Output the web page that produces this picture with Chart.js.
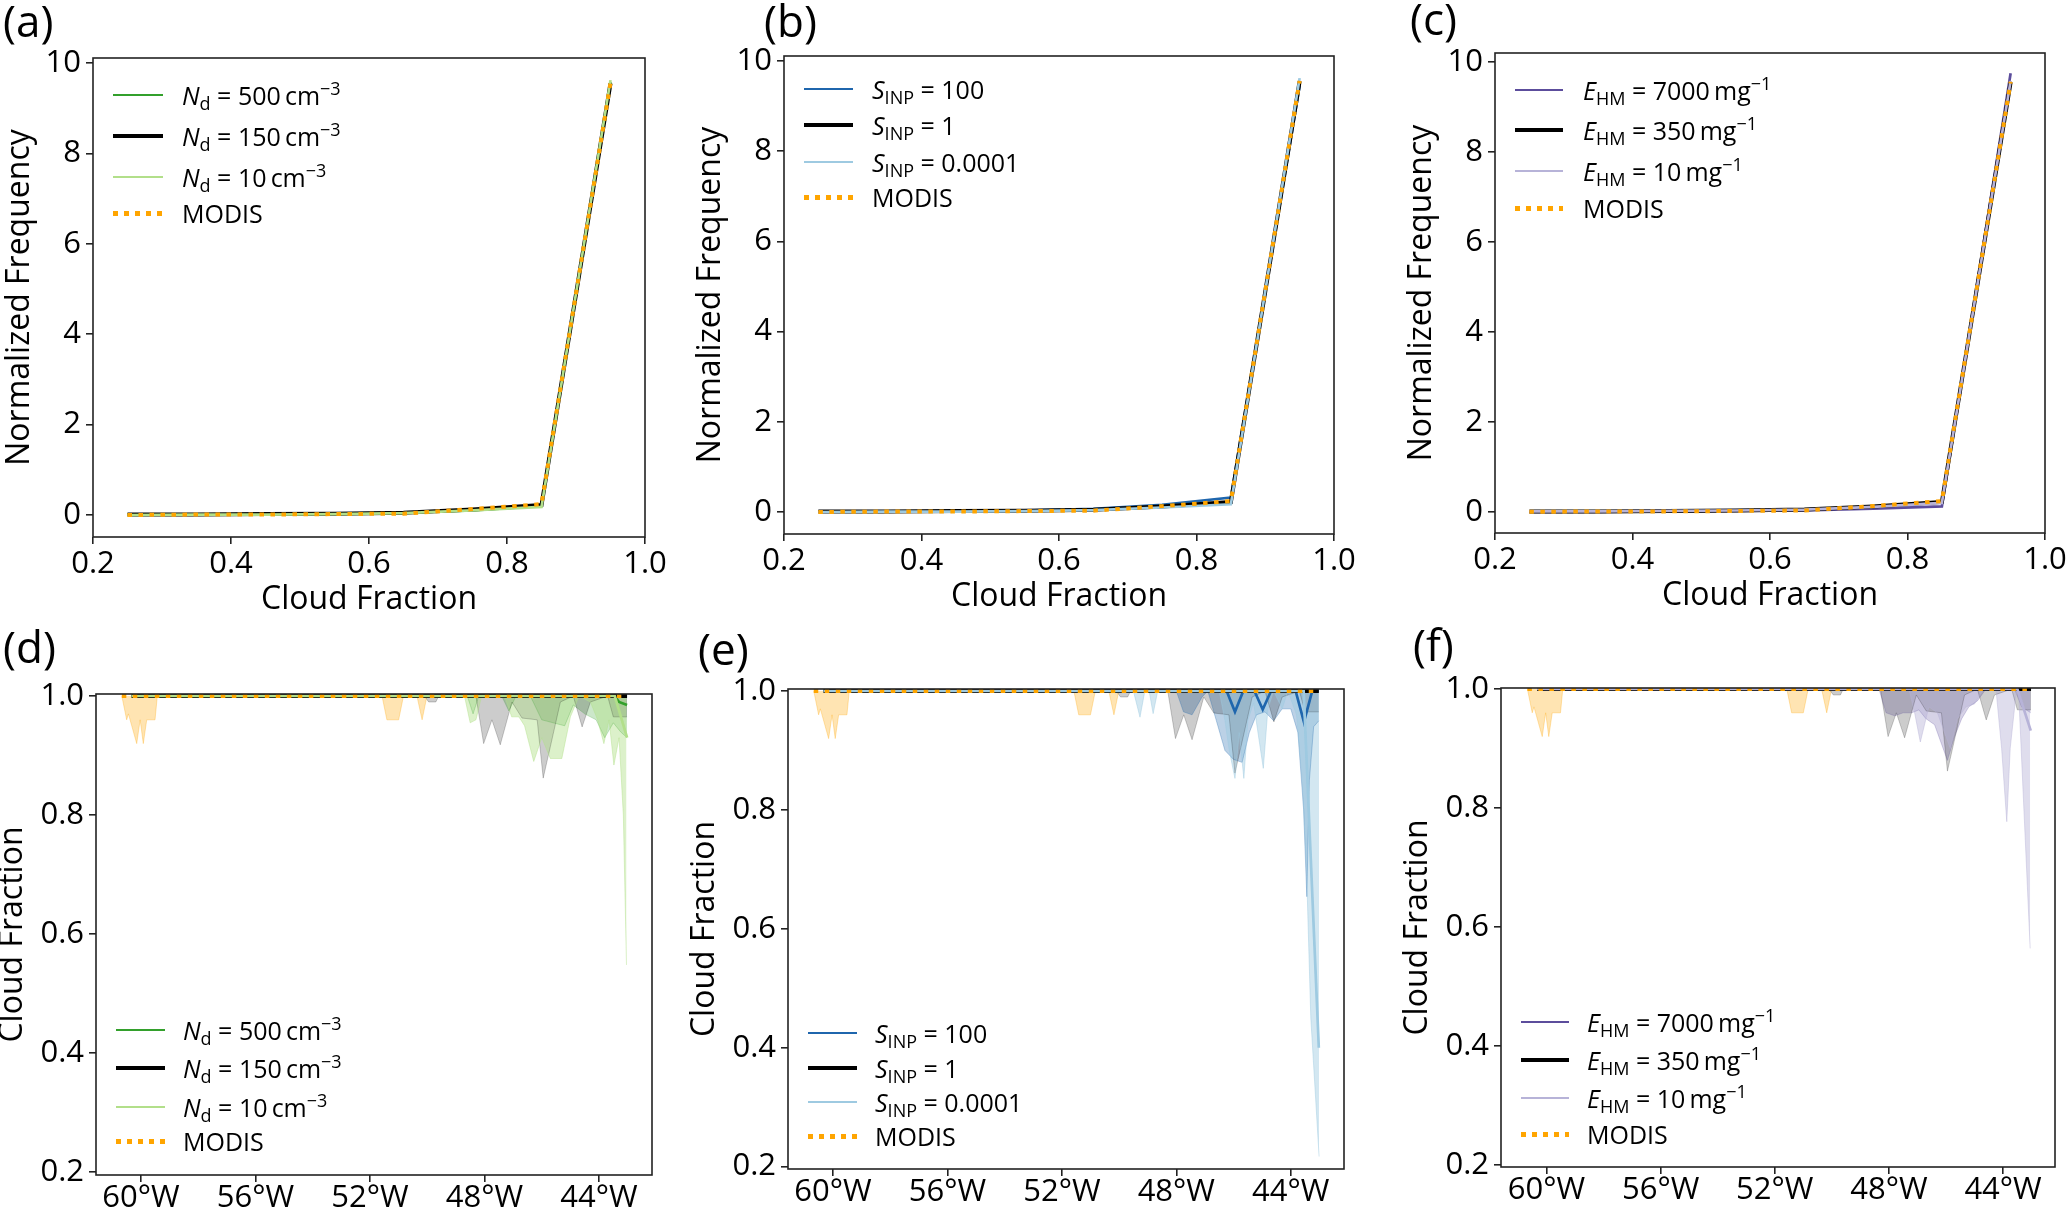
<!DOCTYPE html>
<html lang="en">
<head>
<meta charset="UTF-8">
<title>Cloud fraction: sensitivity runs vs MODIS</title>
<script src="https://cdn.jsdelivr.net/npm/chart.js"></script>
<style>
  html, body { margin: 0; padding: 0; background: #fff; overflow: hidden; }
  body { width: 2067px; height: 1210px; position: relative; font-family: 'Open Sans', sans-serif; color: #000; }
  canvas { position: absolute; }
  .tag { position: absolute; font-size: 44px; line-height: 1; }
  .leg-row { position: absolute; height: 40px; display: flex; align-items: center; font-size: 25px; line-height: 1; white-space: nowrap; }
  .leg-line { flex: none; }
  .leg-dots { flex: none; height: 5px; background: repeating-linear-gradient(90deg, #ffa500 0 5px, transparent 5px 11px); }
  sub, sup { font-size: 0.72em; line-height: 0; position: relative; vertical-align: baseline; }
  sub { top: 0.28em; }
  sup { top: -0.55em; }
</style>
</head>
<body>
<script>
// ---- top row: normalized frequency of cloud fraction ----
const cfBins = [0.25, 0.35, 0.45, 0.55, 0.65, 0.75, 0.85, 0.95];
const freqModis = [0.0, 0.01, 0.01, 0.02, 0.03, 0.13, 0.24, 9.56];
const freqCtrl = [0.01, 0.01, 0.02, 0.03, 0.05, 0.12, 0.22, 9.55];
const freqNd500 = [0.01, 0.01, 0.02, 0.03, 0.05, 0.1, 0.2, 9.58];
const freqNd10 = [0.0, 0.01, 0.01, 0.02, 0.04, 0.1, 0.18, 9.62];
const freqInp100 = [0.01, 0.01, 0.02, 0.03, 0.07, 0.16, 0.32, 9.45];
const freqInp0001 = [0.0, 0.01, 0.01, 0.02, 0.04, 0.1, 0.17, 9.62];
const freqHm7000 = [0.0, 0.0, 0.01, 0.02, 0.03, 0.07, 0.12, 9.75];
const freqHm10 = [0.01, 0.01, 0.02, 0.03, 0.05, 0.11, 0.2, 9.58];

const cfTicks = [0.2, 0.4, 0.6, 0.8, 1.0];
const freqTicks = [0, 2, 4, 6, 8, 10];

// ---- bottom row: cloud fraction along longitude (degrees east, negative = W) ----
const lonTicks = [-60, -56, -52, -48, -44];
const cfAxisTicks = [0.2, 0.4, 0.6, 0.8, 1.0];

// mean lines
const modisLineLon = [-60.67, -43.02];
const modisLineCf = [1.0, 1.0];
const ctrlLineLon = [-60.33, -43.02];
const ctrlLineCf = [1.0, 1.0];
const nd500LineLon = [-60.33, -43.45, -43.3, -43.02];
const nd500LineCf = [1.0, 1.0, 0.99, 0.985];
const nd10LineLon = [-60.33, -43.45, -43.02];
const nd10LineCf = [1.0, 1.0, 0.93];
const inp100LineLon = [-60.33, -46.24, -45.95, -45.66, -45.27, -44.98, -44.69, -43.83, -43.54, -43.25, -43.02];
const inp100LineCf = [1.0, 1.0, 0.965, 1.0, 1.0, 0.969, 1.0, 1.0, 0.948, 1.0, 1.0];
const inp0001LineLon = [-60.33, -43.55, -43.02];
const inp0001LineCf = [1.0, 1.0, 0.4];
const hm7000LineLon = [-60.33, -43.02];
const hm7000LineCf = [1.0, 1.0];
const hm10LineLon = [-60.33, -43.5, -43.03];
const hm10LineCf = [1.0, 1.0, 0.93];

// lower edge of the shaded spread (upper edge is 1.0)
const modisMinLon = [-60.67, -60.5, -60.44, -60.15, -60.03, -59.92, -59.8, -59.51, -59.43, -51.58, -51.41, -51.0, -50.83, -50.36, -50.18, -50.01];
const modisMinCf = [1.0, 0.96, 0.97, 0.92, 0.96, 0.92, 0.96, 0.96, 1.0, 1.0, 0.96, 0.96, 1.0, 1.0, 0.96, 1.0];
const ctrlMinLon = [-50.1, -49.95, -49.7, -49.6, -48.3, -48.03, -47.74, -47.45, -47.04, -46.69, -46.16, -45.95, -45.7, -45.35, -44.9, -44.59, -44.3, -43.7, -43.5, -43.02];
const ctrlMinCf = [1.0, 0.99, 0.99, 1.0, 1.0, 0.92, 0.96, 0.918, 0.99, 0.963, 0.96, 0.862, 0.915, 0.99, 1.0, 0.948, 0.99, 1.0, 0.965, 0.965];
const nd500MinLon = [-48.6, -48.4, -48.2, -47.4, -47.15, -46.9, -46.4, -46.0, -45.6, -45.2, -44.9, -44.5, -44.1, -43.8, -43.5, -43.25, -43.02];
const nd500MinCf = [1.0, 0.97, 1.0, 1.0, 0.975, 1.0, 1.0, 0.96, 0.955, 0.95, 0.985, 0.97, 0.96, 0.93, 0.955, 0.94, 0.93];
const nd10MinLon = [-48.7, -48.5, -48.3, -48.1, -47.3, -47.05, -46.8, -46.6, -46.28, -46.0, -45.7, -45.3, -45.0, -44.7, -44.3, -44.05, -43.83, -43.65, -43.48, -43.3, -43.15, -43.04];
const nd10MinCf = [1.0, 0.955, 0.96, 1.0, 1.0, 0.965, 0.965, 0.95, 0.89, 0.93, 0.895, 0.895, 0.965, 1.0, 0.99, 0.96, 0.92, 0.96, 0.884, 0.93, 0.8, 0.548];
const inp100MinLon = [-48.0, -47.75, -47.45, -47.1, -46.9, -46.6, -46.3, -46.0, -45.7, -45.45, -45.2, -44.9, -44.6, -44.3, -44.0, -43.75, -43.55, -43.44, -43.35, -43.2, -43.02];
const inp100MinCf = [1.0, 0.965, 0.96, 0.99, 1.0, 0.95, 0.9, 0.885, 0.88, 0.93, 0.96, 0.965, 0.95, 0.97, 0.97, 0.93, 0.8, 0.654, 0.85, 0.94, 0.95];
const inp0001MinLon = [-49.5, -49.27, -49.1, -48.95, -48.81, -48.65, -46.5, -46.3, -46.15, -45.95, -45.8, -45.64, -45.5, -45.3, -44.96, -44.8, -44.6, -44.3, -44.1, -43.8, -43.6, -43.45, -43.3, -43.01];
const inp0001MinCf = [1.0, 0.956, 1.0, 1.0, 0.962, 1.0, 1.0, 0.95, 0.9, 0.853, 0.93, 0.853, 0.95, 0.98, 0.87, 0.97, 1.0, 0.97, 1.0, 0.96, 0.85, 0.7, 0.45, 0.217];
const hm7000MinLon = [-48.35, -48.1, -47.8, -47.5, -47.2, -46.95, -46.7, -46.4, -46.1, -45.95, -45.7, -45.45, -45.2, -44.9, -44.6, -43.6, -43.35, -43.03];
const hm7000MinCf = [1.0, 0.96, 0.955, 0.96, 0.96, 0.965, 0.95, 0.94, 0.9, 0.88, 0.92, 0.95, 0.97, 0.98, 1.0, 1.0, 0.97, 0.96];
const hm10MinLon = [-47.3, -47.1, -46.9, -46.6, -46.3, -46.0, -45.85, -45.6, -45.3, -45.0, -44.7, -44.25, -44.05, -43.87, -43.75, -43.55, -43.46, -43.05];
const hm10MinCf = [1.0, 0.96, 0.911, 0.97, 0.96, 0.92, 0.9, 0.95, 0.97, 0.975, 1.0, 1.0, 0.9, 0.777, 0.9, 0.99, 1.0, 0.564];

// colours
const cModis = '#ffa500';
const cCtrl = '#000000';
const cNd500 = '#33a02c', cNd10 = '#b2df8a';
const cInp100 = '#1f66ad', cInp0001 = '#9ecae1';
const cHm7000 = '#5c4d9c', cHm10 = '#b7b3d8';

Chart.defaults.font.family = "'Open Sans', sans-serif";
Chart.defaults.color = '#000';

const framePlugin = {
  id: 'frame',
  afterDatasetsDraw(chart) {
    const { ctx, chartArea: a } = chart;
    ctx.save();
    ctx.strokeStyle = '#222';
    ctx.lineWidth = 1.6;
    ctx.strokeRect(a.left, a.top, a.right - a.left, a.bottom - a.top);
    ctx.restore();
  }
};

function pts(xs, ys) {
  return xs.map((x, i) => ({ x: x, y: ys[i] }));
}

function lineSet(xs, ys, color, width, dotted) {
  return {
    data: pts(xs, ys), borderColor: color, borderWidth: width,
    borderDash: dotted ? [4.5, 6.5] : [], borderCapStyle: 'butt',
    pointRadius: 0, fill: false, tension: 0
  };
}

function bandSet(xs, ys, color) {
  return {
    data: pts(xs, ys), borderColor: color, backgroundColor: color, borderWidth: 1,
    pointRadius: 0, fill: { value: 1 }, tension: 0
  };
}

function axisOpts(min, max, ticks, fmt, size, pad, title, titlePad) {
  return {
    type: 'linear', min: min, max: max,
    afterBuildTicks: s => { s.ticks = ticks.map(v => ({ value: v })); },
    afterFit: s => { if (s.isHorizontal()) s.height = size; else s.width = size; },
    grid: { display: true, drawOnChartArea: false, drawTicks: true, tickLength: 7, color: '#222', lineWidth: 1.6 },
    border: { display: false },
    ticks: { font: { size: 31 }, color: '#000', padding: pad, maxRotation: 0, autoSkip: false, callback: fmt },
    title: title ? { display: true, text: title, font: { size: 32 }, color: '#000', padding: titlePad } : { display: false }
  };
}

function makePanel(box, yw, xh, xPad, xr, yr, xTicks, yTicks, xFmt, yFmt, xTitle, yTitle, datasets) {
  const pt = 30, pr = 30;
  const cv = document.createElement('canvas');
  const w = yw + (box.R - box.L) + pr;
  const h = pt + (box.B - box.T) + xh;
  cv.width = w; cv.height = h;
  cv.style.left = (box.L - yw) + 'px';
  cv.style.top = (box.T - pt) + 'px';
  cv.style.width = w + 'px';
  cv.style.height = h + 'px';
  document.body.appendChild(cv);
  new Chart(cv, {
    type: 'line',
    data: { datasets: datasets },
    plugins: [framePlugin],
    options: {
      responsive: false, animation: false, devicePixelRatio: 1,
      layout: { padding: { left: 0, top: pt, right: pr, bottom: 0 } },
      plugins: { legend: { display: false }, tooltip: { enabled: false }, filler: { drawTime: 'beforeDatasetsDraw' } },
      scales: {
        x: axisOpts(xr[0], xr[1], xTicks, xFmt, xh, xPad, xTitle, { top: 0, bottom: 0 }),
        y: axisOpts(yr[0], yr[1], yTicks, yFmt, yw, 5, yTitle, { top: 1, bottom: 0 })
      }
    }
  });
}

function addTag(text, left, top) {
  const d = document.createElement('div');
  d.className = 'tag';
  d.textContent = text;
  d.style.left = left + 'px';
  d.style.top = top + 'px';
  document.body.appendChild(d);
}

function addLegend(x1, x2, xt, rows, entries) {
  entries.forEach((e, i) => {
    const row = document.createElement('div');
    row.className = 'leg-row';
    row.style.left = x1 + 'px';
    row.style.top = (rows[i] - 20) + 'px';
    const s = document.createElement('div');
    if (e.dotted) {
      s.className = 'leg-dots';
    } else {
      s.className = 'leg-line';
      s.style.height = e.width + 'px';
      s.style.background = e.color;
    }
    s.style.width = (x2 - x1) + 'px';
    s.style.marginRight = (xt - x2) + 'px';
    const t = document.createElement('span');
    t.innerHTML = e.html;
    row.appendChild(s);
    row.appendChild(t);
    document.body.appendChild(row);
  });
}

const fmt1 = v => v.toFixed(1);
const fmtInt = v => String(v);
const fmtLon = v => Math.abs(v) + '°W';

// legend entries
const ndLegend = [
  { color: cNd500, width: 2.7, html: '<i>N</i><sub>d</sub> = 500&thinsp;cm<sup>−3</sup>' },
  { color: cCtrl, width: 4, html: '<i>N</i><sub>d</sub> = 150&thinsp;cm<sup>−3</sup>' },
  { color: cNd10, width: 2.7, html: '<i>N</i><sub>d</sub> = 10&thinsp;cm<sup>−3</sup>' },
  { dotted: true, html: 'MODIS' }
];
const inpLegend = [
  { color: cInp100, width: 2.7, html: '<i>S</i><sub>INP</sub> = 100' },
  { color: cCtrl, width: 4, html: '<i>S</i><sub>INP</sub> = 1' },
  { color: cInp0001, width: 2.7, html: '<i>S</i><sub>INP</sub> = 0.0001' },
  { dotted: true, html: 'MODIS' }
];
const hmLegend = [
  { color: cHm7000, width: 2.7, html: '<i>E</i><sub>HM</sub> = 7000&thinsp;mg<sup>−1</sup>' },
  { color: cCtrl, width: 4, html: '<i>E</i><sub>HM</sub> = 350&thinsp;mg<sup>−1</sup>' },
  { color: cHm10, width: 2.7, html: '<i>E</i><sub>HM</sub> = 10&thinsp;mg<sup>−1</sup>' },
  { dotted: true, html: 'MODIS' }
];

function histSets(strong, cStrong, light, cLight) {
  return [
    lineSet(cfBins, freqModis, cModis, 4, true),
    lineSet(cfBins, light, cLight, 2.7),
    lineSet(cfBins, freqCtrl, cCtrl, 4),
    lineSet(cfBins, strong, cStrong, 2.7)
  ];
}

function lonSets(sLon, sCf, cStrong, lLon, lCf, cLight, sMinLon, sMinCf, fStrong, lMinLon, lMinCf, fLight) {
  return [
    lineSet(modisLineLon, modisLineCf, cModis, 4, true),
    lineSet(lLon, lCf, cLight, 2.7),
    lineSet(ctrlLineLon, ctrlLineCf, cCtrl, 4),
    lineSet(sLon, sCf, cStrong, 2.7),
    bandSet(modisMinLon, modisMinCf, 'rgba(255,165,0,0.3)'),
    bandSet(lMinLon, lMinCf, fLight),
    bandSet(ctrlMinLon, ctrlMinCf, 'rgba(0,0,0,0.2)'),
    bandSet(sMinLon, sMinCf, fStrong)
  ];
}

// (a)-(c)
makePanel({ L: 93, T: 58, R: 645, B: 537 }, 93, 82, 2, [0.2, 1.0], [-0.487, 10.11], cfTicks, freqTicks, fmt1, fmtInt,
  'Cloud Fraction', 'Normalized Frequency', histSets(freqNd500, cNd500, freqNd10, cNd10));
makePanel({ L: 784, T: 56, R: 1334, B: 534 }, 93, 82, 2, [0.2, 1.0], [-0.488, 10.11], cfTicks, freqTicks, fmt1, fmtInt,
  'Cloud Fraction', 'Normalized Frequency', histSets(freqInp100, cInp100, freqInp0001, cInp0001));
makePanel({ L: 1495, T: 53, R: 2045, B: 533 }, 93, 82, 2, [0.2, 1.0], [-0.47, 10.2], cfTicks, freqTicks, fmt1, fmtInt,
  'Cloud Fraction', 'Normalized Frequency', histSets(freqHm7000, cHm7000, freqHm10, cHm10));

// (d)-(f)
makePanel({ L: 96, T: 694, R: 652, B: 1175 }, 103, 40, -2, [-61.572, -42.149], [0.195, 1.0034], lonTicks, cfAxisTicks, fmtLon, fmt1,
  null, 'Cloud Fraction',
  lonSets(nd500LineLon, nd500LineCf, cNd500, nd10LineLon, nd10LineCf, cNd10,
    nd500MinLon, nd500MinCf, 'rgba(51,160,44,0.25)', nd10MinLon, nd10MinCf, 'rgba(178,223,138,0.45)'));
makePanel({ L: 788, T: 689, R: 1344, B: 1169 }, 103, 40, -2, [-61.57, -42.14], [0.196, 1.0034], lonTicks, cfAxisTicks, fmtLon, fmt1,
  null, 'Cloud Fraction',
  lonSets(inp100LineLon, inp100LineCf, cInp100, inp0001LineLon, inp0001LineCf, cInp0001,
    inp100MinLon, inp100MinCf, 'rgba(31,102,173,0.3)', inp0001MinLon, inp0001MinCf, 'rgba(158,202,225,0.45)'));
makePanel({ L: 1501, T: 688, R: 2055, B: 1167 }, 103, 40, -2, [-61.595, -42.18], [0.1966, 1.0017], lonTicks, cfAxisTicks, fmtLon, fmt1,
  null, 'Cloud Fraction',
  lonSets(hm7000LineLon, hm7000LineCf, cHm7000, hm10LineLon, hm10LineCf, cHm10,
    hm7000MinLon, hm7000MinCf, 'rgba(92,77,156,0.25)', hm10MinLon, hm10MinCf, 'rgba(183,179,216,0.45)'));

// legends
addLegend(113, 163, 182, [95, 136, 177, 213], ndLegend);
addLegend(804, 853, 872, [89, 125, 162, 197], inpLegend);
addLegend(1515, 1563, 1583, [90, 130, 171, 208], hmLegend);
addLegend(116, 165, 183, [1030, 1068, 1107, 1141], ndLegend);
addLegend(808, 857, 875, [1033, 1068, 1102, 1136], inpLegend);
addLegend(1521, 1569, 1587, [1022, 1060, 1098, 1134], hmLegend);

// panel letters
addTag('(a)', 3, -2);
addTag('(b)', 764, -2);
addTag('(c)', 1410, -4);
addTag('(d)', 3, 624);
addTag('(e)', 698, 626);
addTag('(f)', 1413, 622);
</script>
</body>
</html>
